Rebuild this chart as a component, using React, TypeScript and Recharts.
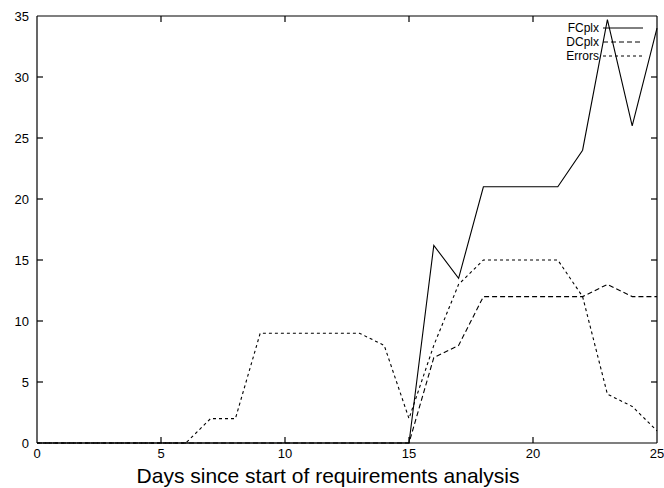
import { LineChart, Line, XAxis, YAxis, Legend, Label, ReferenceLine } from 'recharts';

const days = [0, 1, 2, 3, 4, 5, 6, 7, 8, 9, 10, 11, 12, 13, 14, 15, 16, 17, 18, 19, 20, 21, 22, 23, 24, 25];
const fcplx = [0, 0, 0, 0, 0, 0, 0, 0, 0, 0, 0, 0, 0, 0, 0, 0, 16.2, 13.5, 21, 21, 21, 21, 24, 34.7, 26, 34];
const dcplx = [0, 0, 0, 0, 0, 0, 0, 0, 0, 0, 0, 0, 0, 0, 0, 0, 7, 8, 12, 12, 12, 12, 12, 13, 12, 12];
const errors = [0, 0, 0, 0, 0, 0, 0, 2, 2, 9, 9, 9, 9, 9, 8, 2, 8, 13, 15, 15, 15, 15, 12, 4, 3, 1];

const xTicks = [0, 5, 10, 15, 20, 25];
const yTicks = [0, 5, 10, 15, 20, 25, 30, 35];
const X_MAX = 25;
const Y_MAX = 35;

const series = [
  { key: 'FCplx', values: fcplx, dash: undefined },
  { key: 'DCplx', values: dcplx, dash: '5 3' },
  { key: 'Errors', values: errors, dash: '3 3' },
];

const data = days.map((d, i) => {
  const row: Record<string, number> = { day: d };
  series.forEach((s) => { row[s.key] = s.values[i]; });
  return row;
});

const FONT = '"Liberation Sans", Arial, Helvetica, sans-serif';
const frame = { stroke: '#000', strokeWidth: 1.2 };

// chart layout
const W = 664;
const H = 488;
const M_TOP = 16;
const M_RIGHT = 7;
const X_AXIS_H = 45;
const Y_AXIS_W = 37;
const PLOT_TOP = M_TOP;
const PLOT_BOTTOM = H - X_AXIS_H;
const PLOT_LEFT = Y_AXIS_W;
const PLOT_RIGHT = W - M_RIGHT;
const TICK = 6;

// x tick: label below, tick marks pointing inwards at bottom and top
function XTick({ x, y, payload }: any) {
  const inner = x > PLOT_LEFT + 1 && x < PLOT_RIGHT - 1;
  return (
    <g>
      {inner && <line x1={x} x2={x} y1={PLOT_BOTTOM} y2={PLOT_BOTTOM - TICK} stroke="#000" strokeWidth={1.2} />}
      {inner && <line x1={x} x2={x} y1={PLOT_TOP} y2={PLOT_TOP + TICK} stroke="#000" strokeWidth={1.2} />}
      <text x={x} y={y} dy="0.71em" textAnchor="middle" fill="#000" fontSize={13} fontFamily={FONT}>{payload.value}</text>
    </g>
  );
}

function YTick({ x, y, payload }: any) {
  const inner = y > PLOT_TOP + 1 && y < PLOT_BOTTOM - 1;
  return (
    <g>
      {inner && <line x1={PLOT_LEFT} x2={PLOT_LEFT + TICK} y1={y} y2={y} stroke="#000" strokeWidth={1.2} />}
      {inner && <line x1={PLOT_RIGHT} x2={PLOT_RIGHT - TICK} y1={y} y2={y} stroke="#000" strokeWidth={1.2} />}
      <text x={x} y={y} dy="0.355em" textAnchor="end" fill="#000" fontSize={13} fontFamily={FONT}>{payload.value}</text>
    </g>
  );
}

// legend in series order, text right-aligned before the line sample
function KeyBox() {
  return (
    <div style={{ fontFamily: FONT, fontSize: 12, color: '#000' }}>
      {series.map((s) => (
        <div key={s.key} style={{ display: 'flex', alignItems: 'center', justifyContent: 'flex-end', height: 14 }}>
          <span style={{ display: 'inline-block', lineHeight: '14px', marginRight: 4 }}>{s.key}</span>
          <svg width={40} height={4} style={{ display: 'block' }}>
            <line x1={0} y1={2} x2={40} y2={2} stroke="#000" strokeWidth={1} strokeDasharray={s.dash} />
          </svg>
        </div>
      ))}
    </div>
  );
}

export default function App() {
  return (
    <div style={{ position: 'absolute', left: 0, top: 0, background: '#fff' }}>
      <LineChart width={W} height={H} data={data} margin={{ top: M_TOP, right: M_RIGHT, left: 0, bottom: 0 }}>
        <XAxis xAxisId="b" dataKey="day" type="number" domain={[0, X_MAX]} ticks={xTicks} height={X_AXIS_H}
          tickLine={false} tickSize={6} tickMargin={0} axisLine={frame} tick={<XTick />} interval={0}>
          <Label value="Days since start of requirements analysis" position="insideBottom" offset={5} dx={-19}
            style={{ fill: '#000', fontSize: 21, fontFamily: FONT }} />
        </XAxis>
        <YAxis yAxisId="l" type="number" domain={[0, Y_MAX]} ticks={yTicks} width={Y_AXIS_W} tickLine={false} tickSize={6} tickMargin={2}
          axisLine={frame} tick={<YTick />} interval={0} />

        <ReferenceLine xAxisId="b" yAxisId="l" y={Y_MAX} {...frame} />
        <ReferenceLine xAxisId="b" yAxisId="l" x={X_MAX} {...frame} />

        {series.map((s) => (
          <Line key={s.key} xAxisId="b" yAxisId="l" dataKey={s.key} name={s.key} type="linear" stroke="#000"
            strokeWidth={1.1} strokeDasharray={s.dash} dot={false} isAnimationActive={false} />
        ))}
        <Legend layout="vertical" align="center" verticalAlign="middle" content={<KeyBox />}
          wrapperStyle={{ top: 21, right: 21, left: 'auto', bottom: 'auto', width: 'auto' }} />
      </LineChart>
    </div>
  );
}
